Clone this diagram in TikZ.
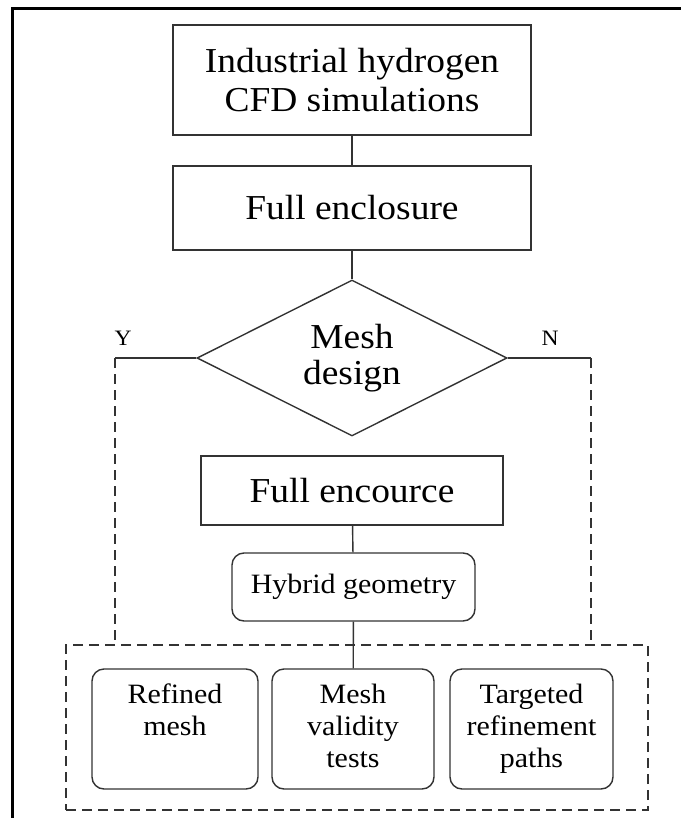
\documentclass[tikz,border=0pt]{standalone}
\usepackage{fontspec}
\setmainfont{Liberation Serif}[FakeStretch = 1.07]
\usetikzlibrary{shapes.geometric}

\begin{document}
\begin{tikzpicture}[x = 1pt, y = -1pt, line width = 1.4pt,
		big/.style = {font = \fontsize{35}{39}\selectfont},
		small/.style = {font = \fontsize{28}{32}\selectfont},
		block/.style = {rectangle, draw = black!80, big, align = center, inner sep = 0pt},
		rblock/.style = {rectangle, rounded corners = 12pt, draw = black!80, small, align = center, inner sep = 0pt},
		decision/.style = {diamond, draw = black!80, font = \fontsize{35}{36}\selectfont, align = center, inner sep = 0pt, aspect = 2},
		dashbox/.style = {rectangle, draw = black!80, dash pattern = on 10pt off 6pt, inner sep = 0pt},
		dashline/.style = {draw = black!80, dash pattern = on 10pt off 6pt},
		yn/.style = {font = \fontsize{22}{24}\selectfont}]

		\useasboundingbox (0,0) rectangle (681,818);
		\draw [line width = 3pt] (12,818) -- (12,9) -- (681,9);

		\node [block, minimum width = 358pt, minimum height = 110pt] (sim) at (352,80) {Industrial hydrogen\\CFD simulations};
		\node [block, minimum width = 358pt, minimum height = 84pt] (encl) at (352,208) {Full enclosure};
		\node [decision, minimum width = 310pt, minimum height = 156pt] (mesh) at (352,358) {Mesh\\design};
		\node [yn] (yes) at (123,338) {Y};
		\node [yn] (no) at (550,338) {N};
		\node [block, minimum width = 302pt, minimum height = 69pt] (encource) at (352,490.5) {Full encource};
		\node [rblock, minimum width = 243pt, minimum height = 68pt] (hybrid) at (353.5,587) {Hybrid geometry};

		\node [dashbox, minimum width = 582pt, minimum height = 165pt] (results) at (357,727.5) {};
		\node [rblock, minimum width = 166pt, minimum height = 120pt] (refined) at (175,729) {\strut Refined\\mesh\\\strut};
		\node [rblock, minimum width = 162pt, minimum height = 120pt] (validity) at (353,729) {\strut Mesh\\validity\\tests\strut};
		\node [rblock, minimum width = 163pt, minimum height = 120pt] (targeted) at (531.5,729) {\strut Targeted\\refinement\\paths\strut};

		\coordinate (ytop) at (115,358);
		\coordinate (ntop) at (591,358);

		\draw [black!80] (sim) -- (encl);
		\draw [black!80] (encl) -- (mesh);
		\draw [black!80] (mesh.west) -- (ytop);
		\draw [black!80] (mesh.east) -- (ntop);
		\draw [dashline] (ytop) -- (ytop |- results.north);
		\draw [dashline] (ntop) -- (ntop |- results.north);
		\draw [black!80] (encource) -- (hybrid);
		\draw [black!80] (hybrid) -- (validity);

		\end{tikzpicture}
\end{document}
